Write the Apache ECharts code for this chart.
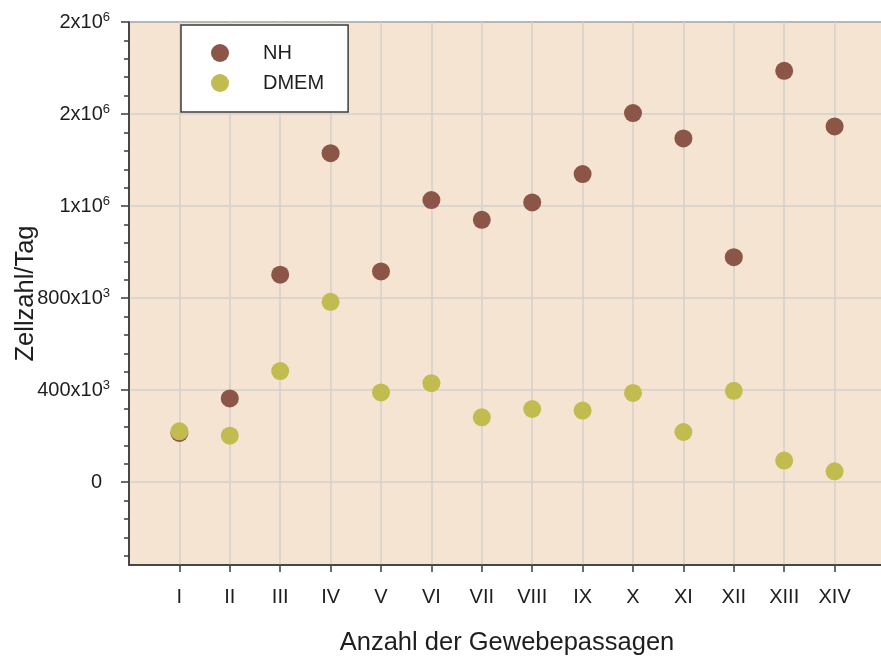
<!DOCTYPE html>
<html>
<head>
<meta charset="utf-8">
<script src="https://cdn.jsdelivr.net/npm/echarts@6/dist/echarts.min.js"></script>
<style>
  html, body { margin: 0; padding: 0; background: #ffffff; overflow: hidden; }
  #chart { width: 881px; height: 656px; }
</style>
</head>
<body>
<div id="chart"></div>
<script>
// Passage labels (roman numerals) along the x axis
var categories = ['I', 'II', 'III', 'IV', 'V', 'VI', 'VII', 'VIII', 'IX', 'X', 'XI', 'XII', 'XIII', 'XIV'];

// Cells per day for each medium
var nhValues   = [214000, 364000, 902000, 1430000, 916000, 1226000, 1140000, 1216000, 1339000, 1604000, 1494000, 978000, 1788000, 1546000];
var dmemValues = [221000, 202000, 483000, 784000, 390000, 430000, 282000, 318000, 311000, 388000, 218000, 397000, 94000, 47000];

// Y tick positions and their printed text (mantissa + exponent)
var yTickValues = [0, 400000, 800000, 1200000, 1600000, 2000000];
var yTickBases  = ['0', '400x10', '800x10', '1x10', '2x10', '2x10'];
var yTickExps   = ['', '3', '3', '6', '6', '6'];
var yMinorValues = [-320000, -240000, -160000, -80000,
  80000, 160000, 240000, 320000, 480000, 560000, 640000, 720000,
  880000, 960000, 1040000, 1120000, 1280000, 1360000, 1440000, 1520000,
  1680000, 1760000, 1840000, 1920000];

var seriesNames = ['NH', 'DMEM'];
var seriesColors = ['#8b5547', '#c2bc50'];

var xPositions = categories.map(function (c, i) { return i + 1; });
function toPoints(vals) { return vals.map(function (v, i) { return [i + 1, v]; }); }

var chart = echarts.init(document.getElementById('chart'), null, { renderer: 'canvas' });

var axisLineColor = '#3c3c3c';
var gridLineColor = '#d2d0cd';
var labelColor = '#1e1e1e';
var fontFamily = '"Liberation Sans", Arial, sans-serif';

chart.setOption({
  animation: false,
  backgroundColor: '#ffffff',
  textStyle: { fontFamily: fontFamily },
  grid: {
    left: 129, top: 22, right: -4, bottom: 91,
    containLabel: false,
    outerBoundsMode: 'none',
    show: true,
    backgroundColor: '#f6e4d2',
    borderColor: axisLineColor,
    borderWidth: 1.5
  },
  legend: {
    data: seriesNames,
    orient: 'vertical',
    left: 181, top: 25,
    icon: 'circle',
    itemWidth: 18, itemHeight: 18, itemGap: 10,
    padding: [18, 24, 19, 30],
    backgroundColor: '#ffffff',
    borderColor: axisLineColor,
    borderWidth: 1.5,
    textStyle: { fontSize: 20, color: labelColor, fontFamily: fontFamily, padding: [0, 0, 0, 29] }
  },
  xAxis: {
    type: 'value',
    min: 0, max: 15,
    name: 'Anzahl der Gewebepassagen',
    nameLocation: 'middle',
    nameGap: 65,
    nameMoveOverlap: false,
    nameTextStyle: { fontSize: 25.5, color: labelColor, fontFamily: fontFamily },
    axisLine: { show: true, onZero: false, lineStyle: { color: axisLineColor, width: 1.5 } },
    axisTick: { show: true, inside: false, length: 7, customValues: xPositions,
      lineStyle: { color: axisLineColor, width: 1.5 } },
    axisLabel: {
      customValues: xPositions,
      margin: 22,
      fontSize: 20, color: labelColor, fontFamily: fontFamily,
      formatter: function (v) { return categories[Math.round(v) - 1] || ''; }
    },
    splitLine: { show: true, lineStyle: { color: gridLineColor, width: 1.5 } }
  },
  yAxis: [{
    type: 'value',
    position: 'left',
    min: -360000, max: 2000000,
    name: 'Zellzahl/Tag',
    nameLocation: 'middle',
    nameRotate: 90,
    nameGap: 90,
    nameMoveOverlap: false,
    nameTextStyle: { fontSize: 25.5, color: labelColor, fontFamily: fontFamily },
    axisLine: { show: true, onZero: false, lineStyle: { color: axisLineColor, width: 1.5 } },
    axisTick: { show: true, inside: false, length: 8, customValues: yTickValues,
      lineStyle: { color: axisLineColor, width: 1.5 } },
    axisLabel: {
      customValues: yTickValues,
      margin: 19,
      color: labelColor,
      formatter: function (v) {
        var k = yTickValues.indexOf(v);
        if (k < 0) return '';
        if (!yTickExps[k]) return '{z|' + yTickBases[k] + '}';
        return '{b|' + yTickBases[k] + '}{s|' + yTickExps[k] + '}';
      },
      rich: {
        b: { fontSize: 20, color: labelColor, fontFamily: fontFamily, lineHeight: 22 },
        z: { fontSize: 20, color: labelColor, fontFamily: fontFamily, lineHeight: 22, padding: [0, 8, 0, 0] },
        s: { fontSize: 13, color: labelColor, fontFamily: fontFamily, verticalAlign: 'top', lineHeight: 14 }
      }
    },
    splitLine: { show: true, lineStyle: { color: gridLineColor, width: 1.5 } }
  }, {
    // short minor ticks between the labelled ones
    type: 'value',
    position: 'left',
    offset: 0,
    min: -360000, max: 2000000,
    axisLine: { show: false },
    axisTick: { show: true, inside: false, length: 5, customValues: yMinorValues,
      lineStyle: { color: axisLineColor, width: 1.5 } },
    axisLabel: { show: false },
    splitLine: { show: false }
  }],
  series: [{
    name: seriesNames[0],
    type: 'scatter',
    symbol: 'circle',
    symbolSize: 18,
    itemStyle: { color: seriesColors[0], opacity: 1 },
    data: toPoints(nhValues),
    z: 3
  }, {
    name: seriesNames[1],
    type: 'scatter',
    symbol: 'circle',
    symbolSize: 18,
    itemStyle: { color: seriesColors[1], opacity: 1 },
    data: toPoints(dmemValues),
    z: 4
  }]
});
</script>
</body>
</html>
